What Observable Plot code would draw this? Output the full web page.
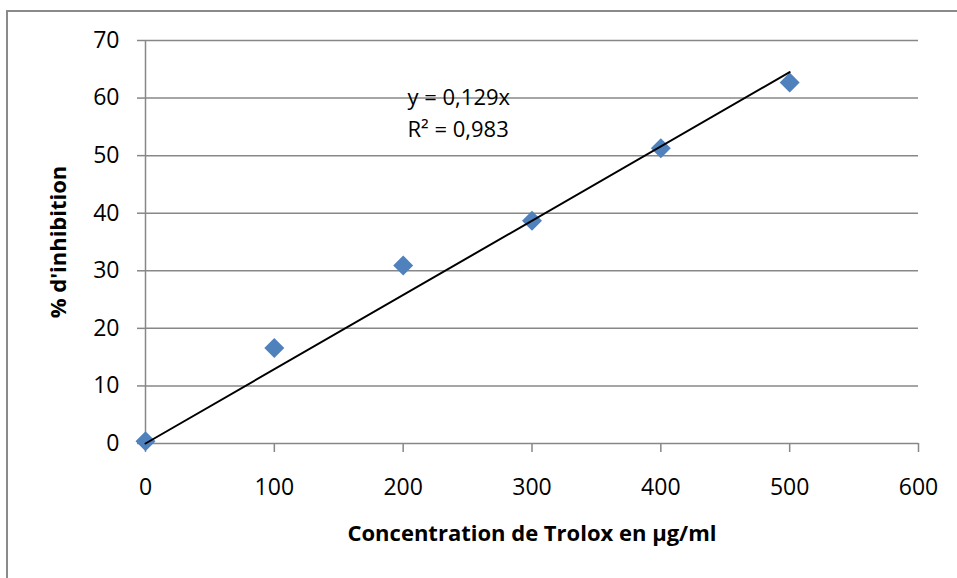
<!DOCTYPE html>
<html><head><meta charset="utf-8">
<script src="https://cdn.jsdelivr.net/npm/d3@7"></script>
<script src="https://cdn.jsdelivr.net/npm/@observablehq/plot@0.6"></script>
<style>
html,body{margin:0;padding:0;background:#fff;overflow:hidden;}
#wrap{position:relative;width:957px;height:578px;overflow:hidden;}
#frame{position:absolute;left:6px;top:10px;width:1000px;height:1000px;border-left:2.5px solid #8a8a8a;border-top:2.5px solid #8a8a8a;pointer-events:none;}
#chart{position:absolute;left:0;top:0;}
</style></head><body>
<div id="wrap"><div id="frame"></div><div id="chart"></div></div>
<script>
const concentrations = [0, 100, 200, 300, 400, 500];
const inhibition = [0.4, 16.6, 30.9, 38.7, 51.3, 62.7];
const xTicks = [0, 100, 200, 300, 400, 500, 600];
const yTicks = [0, 10, 20, 30, 40, 50, 60, 70];
const slope = 0.129;
const rSquared = "0,983";
const trendX = [0, 500];
const xTitle = "Concentration de Trolox en µg/ml";
const yTitle = "% d'inhibition";

const data = concentrations.map((c, i) => ({c, v: inhibition[i]}));
const eqText = `y = ${String(slope).replace(".", ",")}x\nR² = ${rSquared}`;
const grey = "#878787";

const chart = Plot.plot({
  width: 957, height: 578,
  marginLeft: 145, marginRight: 39, marginTop: 40, marginBottom: 135,
  x: {domain: [0, 600]},
  y: {domain: [0, 70]},
  style: {fontFamily: "'Open Sans', sans-serif", fontSize: "23px", color: "#000", background: "transparent", overflow: "visible"},
  marks: [
    Plot.ruleY(yTicks, {stroke: grey, strokeWidth: 1.5}),
    Plot.ruleX([0], {stroke: grey, strokeWidth: 1.5}),
    Plot.axisY({ticks: yTicks, tickSize: 8, tickPadding: 18, stroke: grey, strokeWidth: 1.5, fill: "#000", label: null, fontSize: 23}),
    Plot.axisX({ticks: xTicks, tickSize: 9, tickPadding: 26, stroke: grey, strokeWidth: 1.5, fill: "#000", label: null, fontSize: 23}),
    Plot.dot(data, {x: "c", y: "v", symbol: "diamond2", r: 9, fill: "#4F81BD", stroke: null}),
    Plot.line(trendX, {x: d => d, y: d => slope * d, stroke: "#000", strokeWidth: 2}),
    Plot.text([eqText], {text: d => d, frameAnchor: "top-left", dx: 262, dy: 42, textAnchor: "start", lineAnchor: "top", lineHeight: 1.45, fontSize: 22, fill: "#000"}),
    Plot.text([xTitle], {text: d => d, frameAnchor: "bottom", dy: 90, textAnchor: "middle", lineAnchor: "middle", fontWeight: "bold", fontSize: 22, fill: "#000"}),
    Plot.text([yTitle], {text: d => d, frameAnchor: "left", dx: -87, rotate: -90, textAnchor: "middle", lineAnchor: "middle", fontWeight: "bold", fontSize: 22, fill: "#000"})
  ]
});
document.getElementById("chart").appendChild(chart);
</script>
</body></html>
